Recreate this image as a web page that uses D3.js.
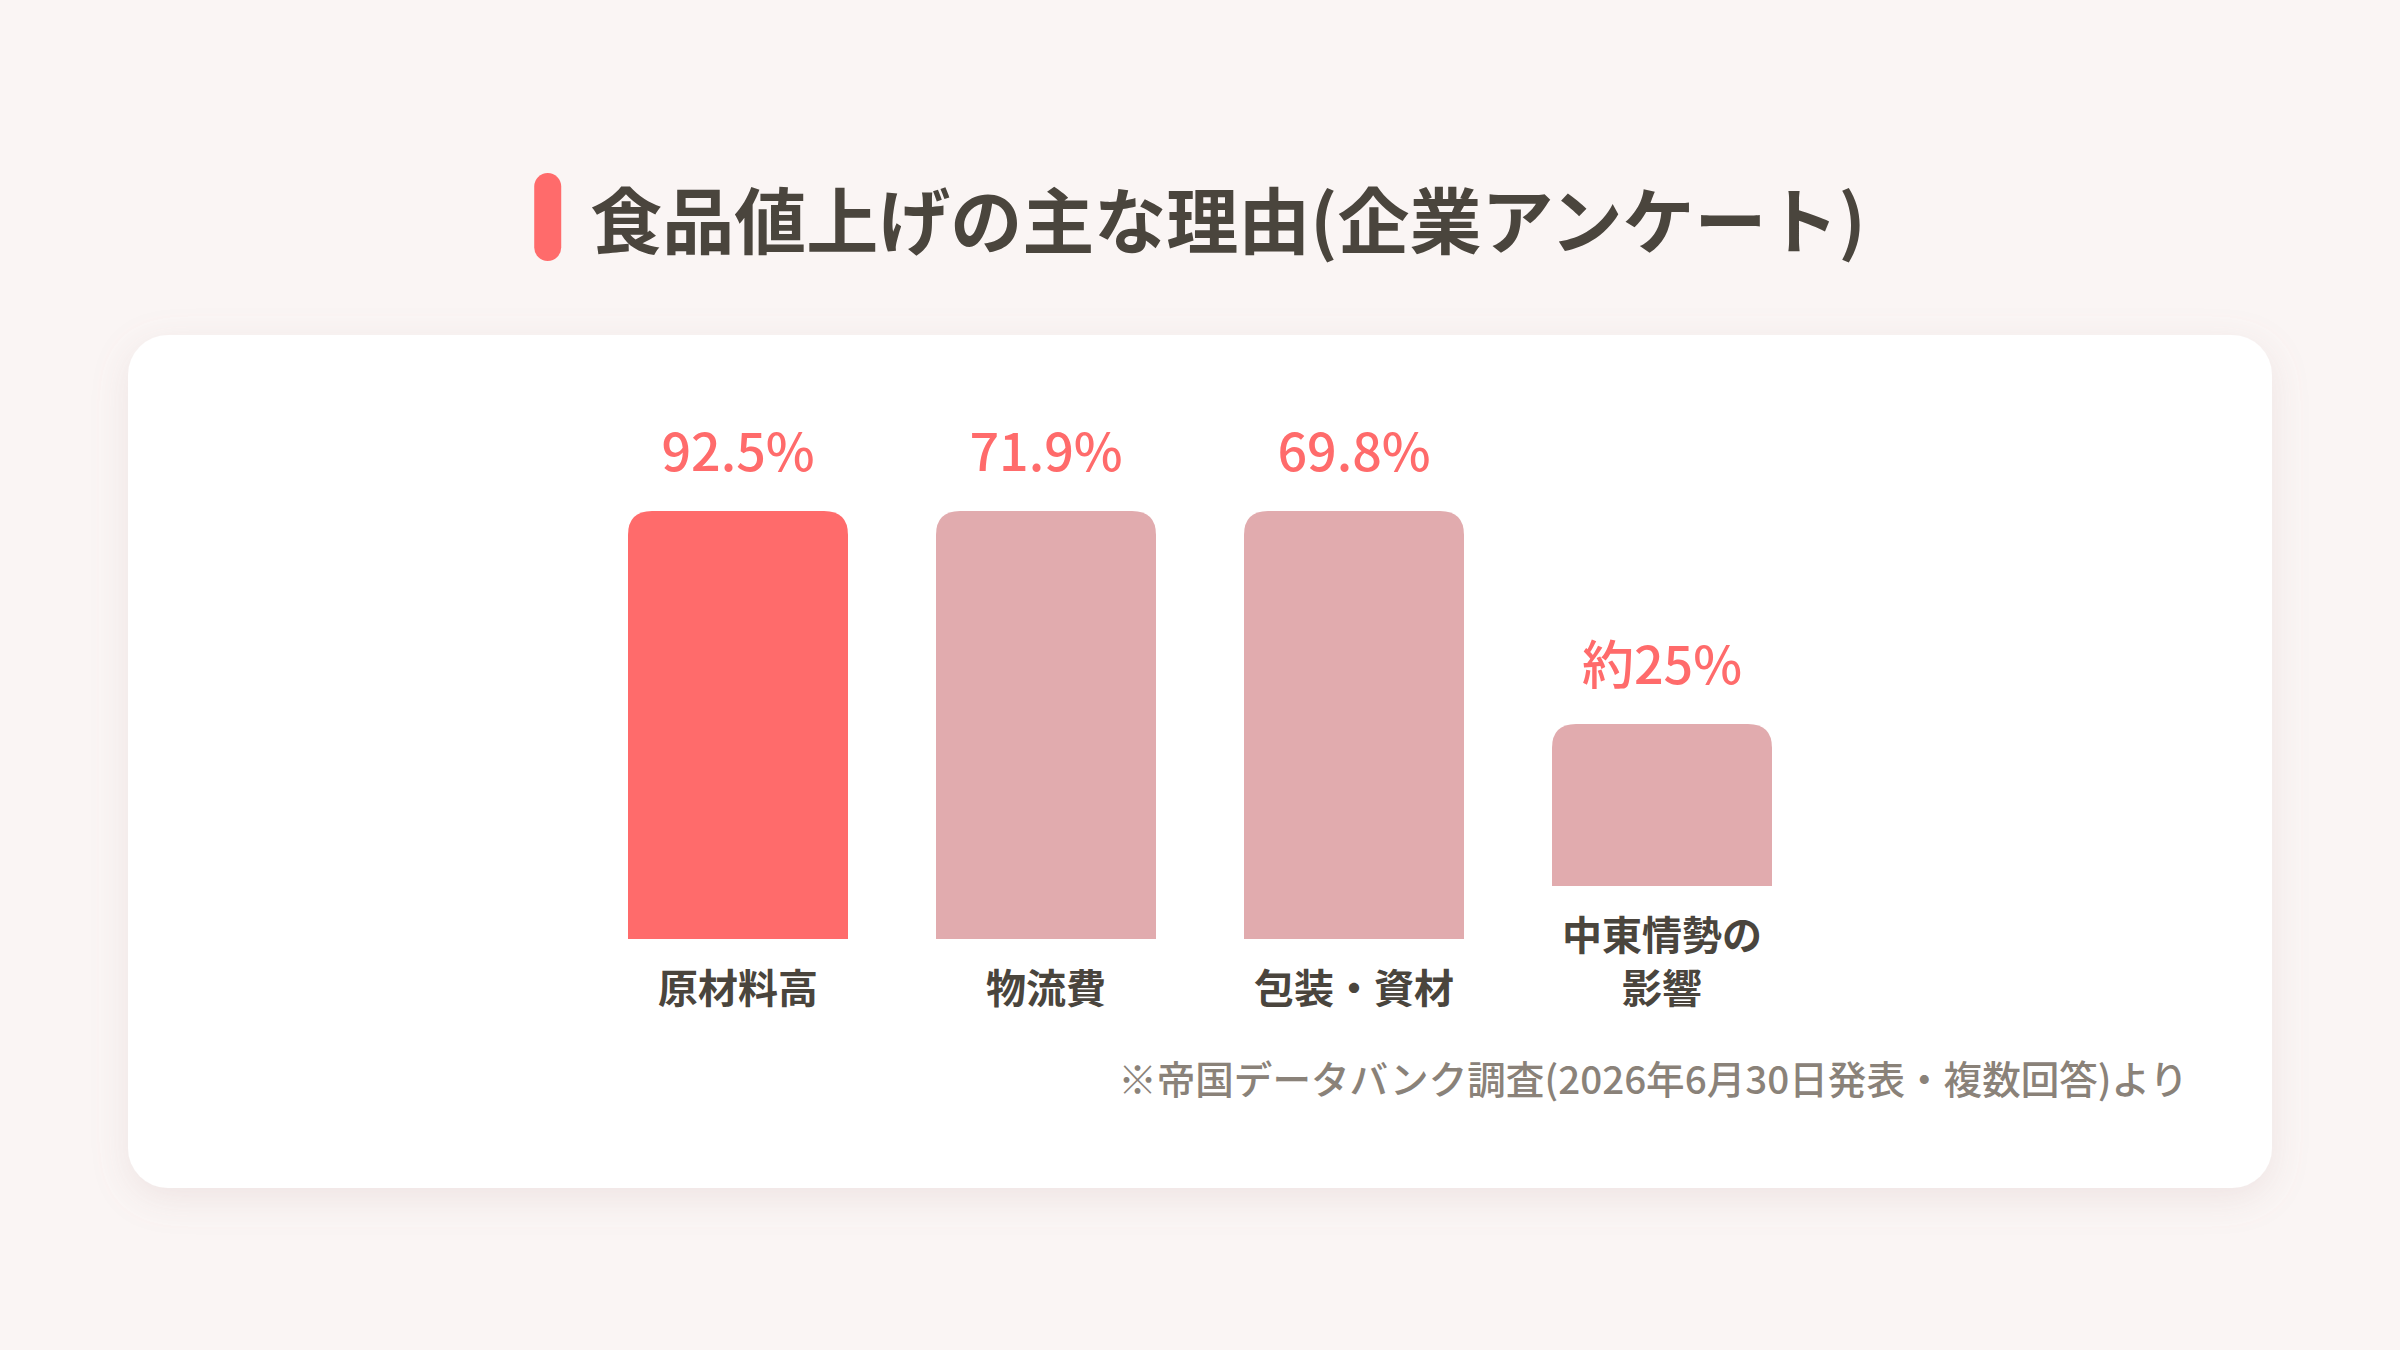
<!DOCTYPE html>
<html lang="ja">
<head>
<meta charset="utf-8">
<script src="https://cdn.jsdelivr.net/npm/d3@7"></script>
<style>
  html, body { margin: 0; padding: 0; background: #faf5f4; }
  svg { display: block; }
</style>
</head>
<body>
<svg id="chart" width="2400" height="1350"></svg>
<script>
// ---- data ----
const categories = ["原材料高", "物流費", "包装・資材", "中東情勢の\n影響"];
const values = [92.5, 71.9, 69.8, 25];
const valueLabels = ["92.5%", "71.9%", "69.8%", "約25%"];
const highlight = [true, false, false, false];
const titleText = "食品値上げの主な理由(企業アンケート)";
const noteText = "※帝国データバンク調査(2026年6月30日発表・複数回答)より";

// ---- layout ----
const W = 2400, H = 1350;
const font = "'Noto Sans CJK JP', 'Noto Sans', sans-serif";
const svg = d3.select("#chart");

const defs = svg.append("defs");
const f = defs.append("filter").attr("id", "shadow")
  .attr("x", "-10%").attr("y", "-10%").attr("width", "120%").attr("height", "130%");
f.append("feDropShadow").attr("dx", 0).attr("dy", 10).attr("stdDeviation", 18)
  .attr("flood-color", "#b08a88").attr("flood-opacity", 0.16);

svg.append("rect").attr("width", W).attr("height", H).attr("fill", "#faf5f4");

// title
const titleG = svg.append("g");
const titleTextEl = titleG.append("text")
  .attr("x", 594).attr("y", 216)
  .attr("dominant-baseline", "central")
  .attr("font-family", font).attr("font-weight", 700)
  .attr("font-size", 72).attr("fill", "#4a453d")
  .text(titleText);
const tw = titleTextEl.node().getComputedTextLength();
const groupW = 27 + 29 + tw;
const gx = (W - groupW) / 2;
titleG.insert("rect", "text")
  .attr("x", gx).attr("y", 173).attr("width", 27).attr("height", 88)
  .attr("rx", 13.5).attr("fill", "#ff6b6b");
titleTextEl.attr("x", gx + 27 + 29);

// card
svg.append("rect")
  .attr("x", 128).attr("y", 335).attr("width", 2144).attr("height", 853)
  .attr("rx", 40).attr("fill", "#ffffff").attr("filter", "url(#shadow)");

// scales
const x = d3.scaleBand().domain(categories).range([628 - 44, 1772 + 44])
  .paddingInner(88 / 308).paddingOuter(0.5 * 88 / 308);
const y = d3.scaleLinear().domain([0, 100]).range([0, 648]);
const maxBarH = 428;
const barH = v => Math.min(y(v), maxBarH);

const lastLineY = 990, lineH = 53, labelGap = 51, labelShift = -4, valueGap = 40, r = 24;

function barPath(x0, w, top, bottom, rr) {
  return `M${x0},${bottom}V${top + rr}Q${x0},${top} ${x0 + rr},${top}` +
    `H${x0 + w - rr}Q${x0 + w},${top} ${x0 + w},${top + rr}V${bottom}Z`;
}

const data = categories.map((c, i) => ({
  c, v: values[i], label: valueLabels[i], hi: highlight[i], lines: c.split("\n")
}));

const g = svg.append("g");
const item = g.selectAll("g.item").data(data).join("g").attr("class", "item");

item.each(function (d) {
  const sel = d3.select(this);
  const cx = x(d.c) + x.bandwidth() / 2;
  const firstLineY = lastLineY - (d.lines.length - 1) * lineH;
  const bottom = firstLineY - labelGap;
  const top = bottom - barH(d.v);
  sel.append("path")
    .attr("d", barPath(x(d.c), x.bandwidth(), top, bottom, r))
    .attr("fill", d.hi ? "#ff6b6b" : "#e1abae");
  sel.append("text")
    .attr("x", cx).attr("y", top - valueGap)
    .attr("text-anchor", "middle")
    .attr("font-family", font).attr("font-weight", 500)
    .attr("font-size", 52).attr("fill", "#ff6b6b")
    .text(d.label);
  sel.selectAll("text.cat").data(d.lines).join("text").attr("class", "cat")
    .attr("x", cx).attr("y", (t, j) => firstLineY + j * lineH + labelShift)
    .attr("text-anchor", "middle").attr("dominant-baseline", "central")
    .attr("font-family", font).attr("font-weight", 700)
    .attr("font-size", 40).attr("fill", "#4a453d")
    .text(t => t);
});

// footnote
svg.append("text")
  .attr("x", 2188).attr("y", 1077)
  .attr("text-anchor", "end").attr("dominant-baseline", "central")
  .attr("font-family", font).attr("font-weight", 500)
  .attr("font-size", 38.6).attr("fill", "#8a8279")
  .text(noteText);
</script>
</body>
</html>
